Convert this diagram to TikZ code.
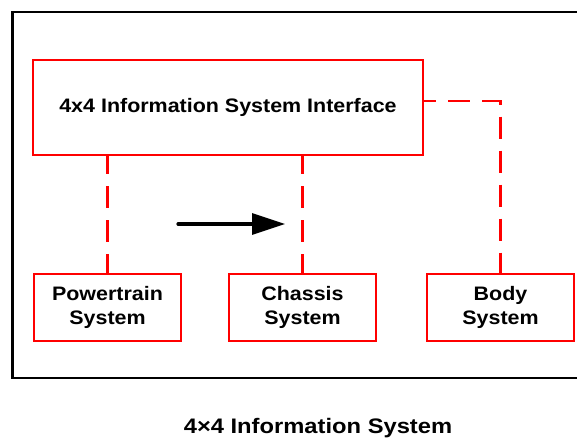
\documentclass[tikz,border=0pt]{standalone}
\usepackage{fontspec}
\setmainfont{Liberation Sans}[FakeStretch=1.1]
\newfontfamily\capfont{Liberation Sans}[FakeStretch=1.13]
\usetikzlibrary{arrows.meta}
\definecolor{boxred}{RGB}{255,0,0}
\tikzset{
  redbox/.style={draw=boxred, line width=2.4pt, fill=white, align=center, inner sep=0pt,
    font=\bfseries\fontsize{19.5}{24}\selectfont},
  smallbox/.style={redbox, minimum width=147pt, minimum height=67pt},
  dashline/.style={draw=boxred, line width=2.4pt, dash pattern=on 22pt off 12pt},
  frameline/.style={draw=black, line width=2.8pt},
  bigarrow/.style={line width=3.2pt, line cap=round, -{Triangle[length=33pt,width=21pt]}}
}
\begin{document}
\begin{tikzpicture}[x=1pt,y=-1pt]
\useasboundingbox (0,0) rectangle (577,439);
\draw[frameline] (580,12) -- (12.5,12) -- (12.5,378) -- (580,378);
\node[redbox, minimum width=390pt, minimum height=95pt] (top) at (228,107.5) {4x4 Information System Interface};
\node[smallbox] (pt) at (107.5,307.5) {Powertrain\\System};
\node[smallbox] (ch) at (302.5,307.5) {Chassis\\System};
\node[smallbox] (bd) at (500.5,307.5) {Body\\System};
\draw[dashline, dash phase=4pt] (top.south -| pt.north) -- (pt.north);
\draw[dashline, dash phase=4pt] (top.south -| ch.north) -- (ch.north);
\coordinate (tr) at ([yshift=6.5pt]top.east);
\draw[dashline, dash phase=10pt] (tr) -- (tr -| bd.north) -- (bd.north);
\coordinate (a1) at (178,224);
\coordinate (a2) at (285,224);
\draw[bigarrow] (a1) -- (a2);
\node[anchor=base, inner sep=0pt, font=\capfont\bfseries\fontsize{21}{25}\selectfont] (cap) at (318,433) {4×4 Information System};
\end{tikzpicture}
\end{document}
